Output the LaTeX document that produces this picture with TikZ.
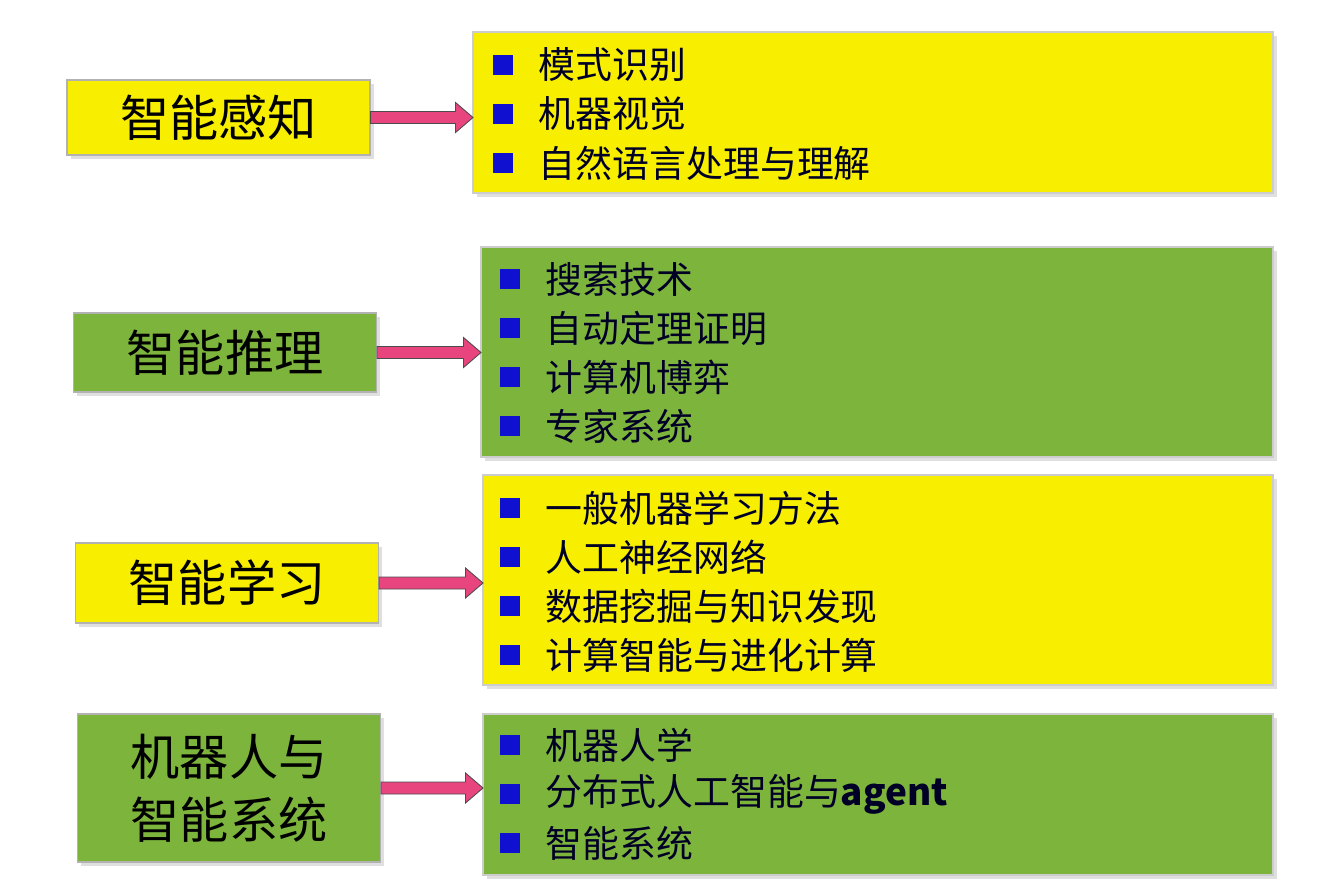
\documentclass[tikz,border=0pt]{standalone}
\usepackage{fontspec}
\newfontfamily\cjk{Noto Sans CJK SC}
\usetikzlibrary{positioning,shadows,calc}
\definecolor{boxyellow}{HTML}{F7EE00}
\definecolor{boxgreen}{HTML}{7DB43C}
\definecolor{arrowpink}{HTML}{E8457E}
\definecolor{itemblue}{HTML}{1010D0}
\tikzset{
  topic/.style={draw=gray!60, line width=0.6pt, drop shadow={opacity=0.25}, minimum width=6.06cm, font=\cjk\fontsize{28}{36}\selectfont, align=center, inner sep=0pt},
  panel/.style={draw=gray!40, line width=0.6pt, drop shadow={opacity=0.25}, inner sep=0pt},
  item/.style={anchor=west, font=\cjk\fontsize{21}{24}\selectfont, text=black!85!blue, inner sep=0pt},
  bullet/.style={fill=itemblue, minimum size=0.4cm, inner sep=0pt},
  link/.style={draw=black!70, fill=arrowpink, line width=0.5pt}
}
\newcommand{\pinkarrow}[2]{% from (#1) to (#2)
  \path (#1) coordinate (pa) (#2) coordinate (pb);
  \filldraw[link] ($(pa)+(0,0.12)$) -- ($(pb)+(-0.35,0.12)$) -- ($(pb)+(-0.35,0.3)$) -- (pb)
    -- ($(pb)+(-0.35,-0.3)$) -- ($(pb)+(-0.35,-0.12)$) -- ($(pa)+(0,-0.12)$) -- cycle;}
\begin{document}
\begin{tikzpicture}
\useasboundingbox[fill=white] (0,0) rectangle (26.36,-17.84);
% left topics
\node[topic, fill=boxyellow, minimum height=1.5cm] (t1) at (4.37,-2.35) {智能感知};
\node[topic, fill=boxgreen, minimum height=1.58cm] (t2) at (4.5,-7.05) {智能推理};
\node[topic, fill=boxyellow, minimum height=1.6cm] (t3) at (4.54,-11.66) {智能学习};
\node[topic, fill=boxgreen, minimum height=2.96cm] (t4) at (4.58,-15.76) {机器人与\\智能系统};
% right panels
\path[panel, fill=boxyellow, draw] (9.46,-0.64) rectangle (25.46,-3.86);
\path[panel, fill=boxgreen, draw] (9.62,-4.94) rectangle (25.46,-9.14);
\path[panel, fill=boxyellow, draw] (9.66,-9.5) rectangle (25.46,-13.7);
\path[panel, fill=boxgreen, draw] (9.66,-14.28) rectangle (25.46,-17.5);
\coordinate (l1) at (9.46,0);
\coordinate (l2) at (9.62,0);
\coordinate (l3) at (9.66,0);
% arrows
\pinkarrow{t1.east}{t1.east -| l1}
\pinkarrow{t2.east}{t2.east -| l2}
\pinkarrow{t3.east}{t3.east -| l3}
\pinkarrow{t4.east}{t4.east -| l3}
% items
\foreach \txt [count=\i] in {模式识别,机器视觉,自然语言处理与理解}
  \node[bullet] (a\i) at (10.06,{-1.3-0.98*(\i-1)}) {} node[item, right=0.5cm of a\i] {\txt};
\foreach \txt [count=\i] in {搜索技术,自动定理证明,计算机博弈,专家系统}
  \node[bullet] (b\i) at (10.2,{-5.58-0.98*(\i-1)}) {} node[item, right=0.5cm of b\i] {\txt};
\foreach \txt [count=\i] in {一般机器学习方法,人工神经网络,数据挖掘与知识发现,计算智能与进化计算}
  \node[bullet] (c\i) at (10.2,{-10.16-0.98*(\i-1)}) {} node[item, right=0.5cm of c\i] {\txt};
\foreach \txt [count=\i] in {机器人学,分布式人工智能与\textbf{agent},智能系统}
  \node[bullet] (d\i) at (10.2,{-14.9-0.98*(\i-1)}) {} node[item, right=0.5cm of d\i] {\txt};
\end{tikzpicture}
\end{document}
